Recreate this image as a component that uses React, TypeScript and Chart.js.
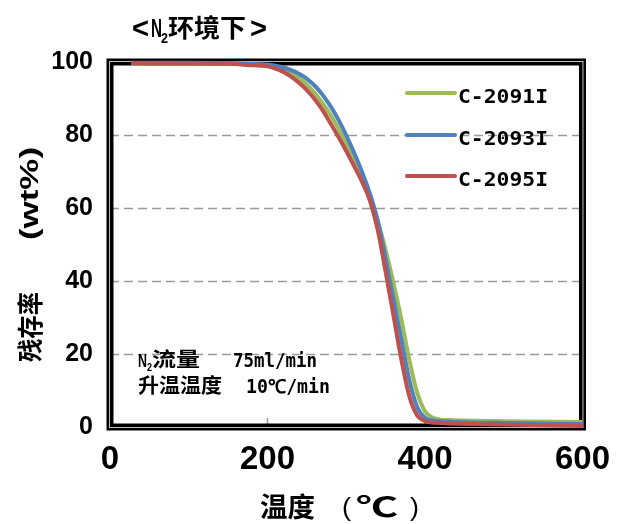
import React, { useEffect, useRef } from "react";
import { Chart, registerables } from "chart.js";

Chart.register(...registerables);

const seriesLabels = ["C-2091I", "C-2093I", "C-2095I"];
const seriesColors = ["#9BBB59", "#4F81BD", "#C0504D"];

const tempGreen = [27, 100, 150, 175, 200, 210, 220, 230, 240, 250, 260, 270, 280, 290, 300, 310, 320, 330, 340, 350, 360, 370, 380, 390, 400, 410, 420, 430, 500, 600];
const wtGreen = [99.6, 99.6, 99.5, 99.3, 99.0, 98.6, 98.0, 97.0, 95.6, 93.8, 91.5, 88.7, 85.5, 81.8, 77.6, 73.0, 68.0, 62.6, 56.4, 48.5, 39.5, 29.5, 18.5, 9.5, 4.3, 2.5, 2.0, 1.9, 1.6, 1.4];

const tempBlue = [27, 100, 150, 175, 200, 210, 220, 230, 240, 250, 260, 270, 280, 290, 300, 310, 320, 330, 340, 350, 360, 370, 380, 390, 400, 410, 440, 500, 600];
const wtBlue = [99.8, 99.8, 99.7, 99.5, 99.3, 99.0, 98.5, 97.8, 96.8, 95.4, 93.5, 91.0, 87.9, 84.2, 79.9, 75.1, 69.9, 64.0, 56.5, 46.0, 35.0, 24.0, 13.0, 5.5, 2.5, 1.8, 1.4, 1.1, 0.8];

const tempRed = [27, 100, 150, 175, 200, 210, 220, 230, 240, 250, 260, 270, 280, 290, 300, 310, 320, 330, 340, 350, 360, 370, 380, 390, 400, 420, 500, 600];
const wtRed = [99.7, 99.6, 99.5, 99.2, 98.8, 98.2, 97.3, 96.0, 94.3, 92.3, 89.8, 86.8, 83.2, 79.5, 75.6, 71.5, 67.2, 62.0, 54.0, 42.5, 30.5, 18.5, 8.5, 3.2, 1.7, 1.1, 0.7, 0.3];

const xTicks = [0, 200, 400, 600];
const yTicks = [0, 20, 40, 60, 80, 100];

const titleText = ["<", "N", "2", "环境下", ">"];
const noteLine1 = ["N", "2", "流量", "75ml/min"];
const noteLine2 = ["升温温度", "10℃/min"];
const yTitle = ["残存率", "(wt%)"];
const xTitle = ["温度", "(", "℃", ")"];

const CJK = '"Noto Sans CJK SC"';
const LAT = '"Liberation Sans"';
const MONO = '"DejaVu Sans Mono"';

function fit(ctx: CanvasRenderingContext2D, text: string, x: number, y: number, w: number, font: string) {
  ctx.font = font;
  const m = ctx.measureText(text).width || 1;
  ctx.save();
  ctx.translate(x, y);
  ctx.scale(w / m, 1);
  ctx.textAlign = "left";
  ctx.textBaseline = "alphabetic";
  ctx.fillText(text, 0, 0);
  ctx.restore();
}

const toPts = (xs: number[], ys: number[]) => xs.map((x, i) => ({ x, y: ys[i] }));

const decor = {
  id: "decor",
  beforeDatasetsDraw(chart: any) {
    const { ctx, chartArea: a, scales } = chart;
    const xs = scales.x, ys = scales.y;
    ctx.save();
    ctx.strokeStyle = "#9a9a9a";
    ctx.lineWidth = 1.5;
    ctx.setLineDash([9, 5]);
    yTicks.forEach((v) => {
      if (v === 0 || v === 100) return;
      const py = Math.round(ys.getPixelForValue(v)) + 0.5;
      ctx.beginPath();
      ctx.moveTo(a.left, py);
      ctx.lineTo(a.right, py);
      ctx.stroke();
    });
    ctx.setLineDash([]);
    xTicks.forEach((v) => {
      if (v === 0 || v === 600) return;
      const px = xs.getPixelForValue(v);
      ctx.beginPath();
      ctx.moveTo(px, a.bottom - 9);
      ctx.lineTo(px, a.bottom - 3);
      ctx.stroke();
    });
    ctx.strokeStyle = "#000";
    ctx.lineWidth = 7;
    ctx.strokeRect(a.left, a.top, a.right - a.left, a.bottom - a.top);
    ctx.strokeStyle = "#bdbdbd";
    ctx.lineWidth = 1;
    ctx.strokeRect(a.left - 0.5, a.top - 0.5, a.right - a.left + 1, a.bottom - a.top + 1);
    ctx.restore();
  },
  afterDraw(chart: any) {
    const { ctx } = chart;
    ctx.save();
    ctx.fillStyle = "#000";
    // title
    fit(ctx, titleText[0], 132, 38, 17, `bold 30px ${LAT}`);
    fit(ctx, titleText[1], 151, 37, 11, `bold 26px ${LAT}`);
    fit(ctx, titleText[2], 161, 43, 7, `bold 14px ${LAT}`);
    fit(ctx, titleText[3], 168, 37, 78, `bold 25px ${CJK}`);
    fit(ctx, titleText[4], 250, 38, 17, `bold 30px ${LAT}`);
    // legend
    const rowsY = [93, 135, 176];
    seriesLabels.forEach((lab, i) => {
      ctx.strokeStyle = seriesColors[i];
      ctx.lineWidth = 4;
      ctx.lineCap = "round";
      ctx.beginPath();
      ctx.moveTo(407, rowsY[i]);
      ctx.lineTo(455, rowsY[i]);
      ctx.stroke();
      fit(ctx, lab, 458, rowsY[i] + 10, 90, `bold 20px ${MONO}`);
    });
    // annotation
    fit(ctx, noteLine1[0], 138, 367, 9, `bold 19px ${LAT}`);
    fit(ctx, noteLine1[1], 147, 371, 5, `bold 11px ${LAT}`);
    fit(ctx, noteLine1[2], 152, 367, 48, `bold 20px ${CJK}`);
    fit(ctx, noteLine1[3], 233, 367, 84, `bold 19px ${MONO}`);
    fit(ctx, noteLine2[0], 138, 393, 84, `bold 20px ${CJK}`);
    fit(ctx, noteLine2[1], 246, 393, 84, `bold 19px ${MONO}`);
    // x title
    fit(ctx, xTitle[0], 260, 517, 55, `bold 27px ${CJK}`);
    fit(ctx, xTitle[1], 342, 516, 9, `26px ${LAT}`);
    fit(ctx, xTitle[2], 356, 517, 42, `bold 27px ${CJK}`);
    fit(ctx, xTitle[3], 410, 516, 9, `26px ${LAT}`);
    // y title rotated
    ctx.save();
    ctx.translate(40, 362);
    ctx.rotate(-Math.PI / 2);
    fit(ctx, yTitle[0], 0, 0, 70, `bold 26px ${CJK}`);
    fit(ctx, yTitle[1], 122, -2, 93, `bold 25px ${LAT}`);
    ctx.restore();
    ctx.restore();
  },
};

export default function App() {
  const ref = useRef<HTMLCanvasElement>(null);
  useEffect(() => {
    if (!ref.current) return;
    const mk = (i: number, xs: number[], ys: number[], order: number) => ({
      label: seriesLabels[i],
      data: toPts(xs, ys),
      borderColor: seriesColors[i],
      backgroundColor: seriesColors[i],
      borderWidth: 4,
      pointRadius: 0,
      showLine: true,
      fill: false,
      cubicInterpolationMode: "monotone" as const,
      clip: 8,
      order,
    });
    const chart = new Chart(ref.current, {
      type: "scatter",
      data: {
        datasets: [
          mk(0, tempGreen, wtGreen, 3),
          mk(1, tempBlue, wtBlue, 2),
          mk(2, tempRed, wtRed, 1),
        ],
      },
      options: {
        animation: false,
        responsive: false,
        devicePixelRatio: 1,
        layout: { padding: { left: 0, top: 62, right: 30, bottom: 0 } },
        plugins: { legend: { display: false }, tooltip: { enabled: false }, title: { display: false } },
        scales: {
          x: {
            type: "linear",
            min: 0,
            max: 600,
            afterFit: (s: any) => { s.height = 97; },
            afterBuildTicks: (s: any) => { s.ticks = xTicks.map((v) => ({ value: v })); },
            ticks: { color: "#000", font: { family: "Liberation Sans", weight: "bold", size: 33 }, padding: 13, maxRotation: 0, autoSkip: false },
            grid: { display: false, drawTicks: false },
            border: { display: false },
          },
          y: {
            type: "linear",
            min: 0,
            max: 100,
            afterFit: (s: any) => { s.width = 110; },
            afterBuildTicks: (s: any) => { s.ticks = yTicks.map((v) => ({ value: v })); },
            ticks: { color: "#000", font: { family: "Liberation Sans", weight: "bold", size: 25 }, padding: 17, autoSkip: false },
            grid: { display: false, drawTicks: false },
            border: { display: false },
          },
        },
      },
      plugins: [decor],
    });
    return () => chart.destroy();
  }, []);
  return (
    <div style={{ position: "fixed", left: 0, top: 0, width: 623, height: 524, background: "#fff" }}>
      <canvas ref={ref} width={623} height={524} style={{ width: 623, height: 524, display: "block" }} />
    </div>
  );
}
